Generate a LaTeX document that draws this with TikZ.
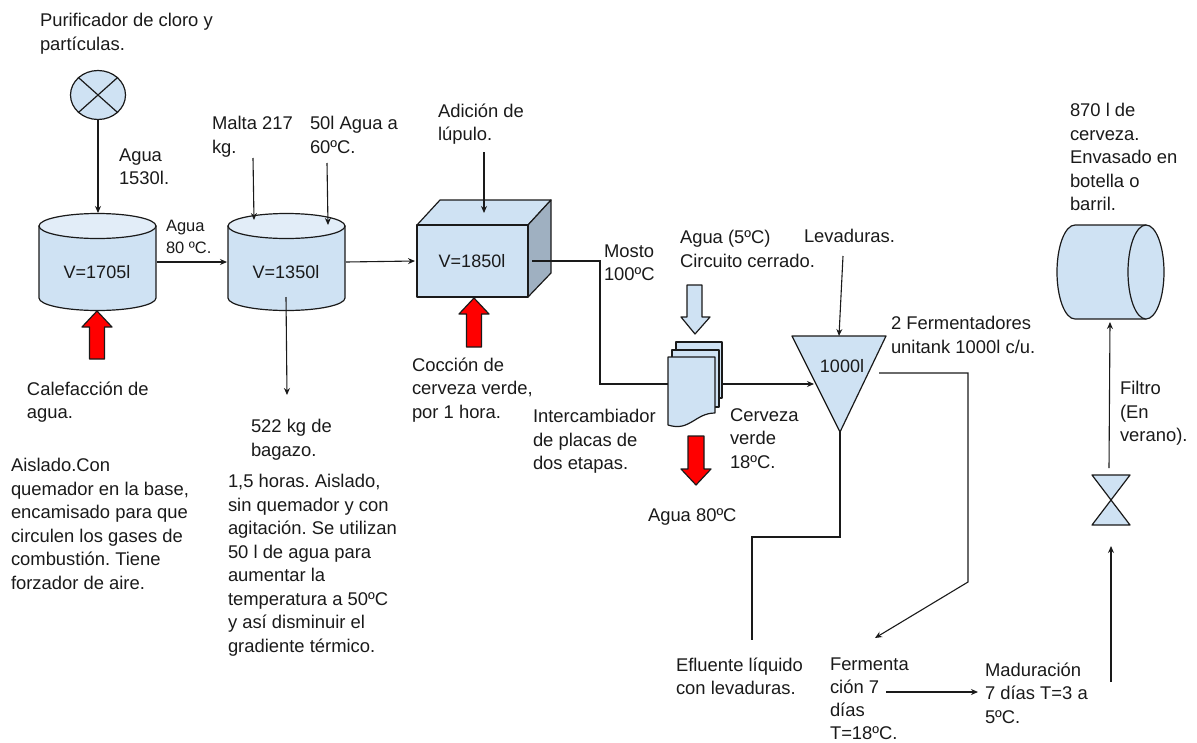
\documentclass[tikz,border=0pt]{standalone}
\usepackage{fontspec}
\setmainfont{Liberation Sans}
\usetikzlibrary{arrows.meta,shapes.geometric}
\definecolor{pale}{HTML}{CFE2F3}
\definecolor{paler}{HTML}{E2EDF8}
\definecolor{shade}{HTML}{9FB0C1}
\definecolor{ink}{HTML}{1A1A1A}
\newcommand{\T}[4]{\node[lbl] (#1) at (#2,{#3-12.45}) {#4};}
\newcommand{\Ts}[4]{\node[lbl] (#1) at (#2,{#3-16.45}) {#4};}
\newcommand{\Cyl}[1]{%
  \path[shapeline,fill=pale] (#1,226) -- (#1,298) arc[start angle=180,end angle=0,x radius=58.5,y radius=12.5] -- ({#1+117},226) -- cycle;
  \path[shapeline,fill=paler] ({#1+58.5},226) ellipse[x radius=58.5,y radius=12.5];
}
\newcommand{\RedUp}[5]{% tip x, tip y, head half, shaft half, length
  \path[shapeline,fill=red] (#1,#2) -- ({#1+#3},{#2+16}) -- ({#1+#4},{#2+16}) -- ({#1+#4},{#2+#5}) -- ({#1-#4},{#2+#5}) -- ({#1-#4},{#2+16}) -- ({#1-#3},{#2+16}) -- cycle;
}
\tikzset{
  x=1pt,y=-1pt,
  lbl/.style={anchor=north west,inner sep=0pt,outer sep=0pt,align=left,text=ink,
    font=\fontsize{18.4}{23.5}\selectfont\frenchspacing,execute at begin node=\strut},
  lblsmall/.style={lbl,font=\fontsize{16.5}{22}\selectfont\frenchspacing},
  lbltight/.style={lbl,font=\fontsize{18.4}{23.2}\selectfont\frenchspacing},
  vol/.style={inner sep=0pt,text=ink,font=\fontsize{18}{22}\selectfont},
  shapeline/.style={draw=ink,line width=1.2pt,line join=round},
  conn/.style={draw=ink,line width=1.1pt,-{Stealth[length=7pt,width=6pt]}},
  plainconn/.style={draw=ink,line width=1.1pt},
}
\begin{document}
\begin{tikzpicture}
\useasboundingbox (0,0) rectangle (1197,742);
% purifier
\node[ellipse,shapeline,fill=pale,minimum width=55pt,minimum height=49pt,inner sep=0pt] (purif) at (98,95) {};
\draw[shapeline] (purif.north west) -- (purif.south east) (purif.north east) -- (purif.south west);
% cylinders
\Cyl{39}
\Cyl{228}
\node[vol] (v1) at (97,272) {V=1705l};
\node[vol] (v2) at (286,272) {V=1350l};
\coordinate (c1top) at (98,213);
\coordinate (c1r) at (157,262);
\coordinate (c2l) at (227,262);
\coordinate (c2r) at (346,262);
\coordinate (c2b) at (286,297);
\coordinate (bagazo) at (287,395);
\coordinate (maltaS) at (253,158);
\coordinate (maltaE) at (254,220);
\coordinate (aguaS) at (327,163);
\coordinate (aguaE) at (328,225);
% box
\path[shapeline,fill=pale] (417,225) -- (440,200) -- (551,200) -- (528,225) -- cycle;
\path[shapeline,fill=shade] (528,225) -- (551,200) -- (551,273) -- (528,297) -- cycle;
\path[shapeline,fill=pale] (417,225) rectangle (528,297);
\node[vol] (v3) at (472,261) {V=1850l};
\coordinate (boxl) at (415,261);
\coordinate (boxr) at (532,261);
\coordinate (lupS) at (484,152);
\coordinate (lupE) at (484,213);
% red arrows
\RedUp{97}{311}{15}{7.5}{48}
\RedUp{474}{298}{15}{7.5}{49}
\path[shapeline,fill=red] (696,485) -- (681,469) -- (688,469) -- (688,436) -- (704,436) -- (704,469) -- (711,469) -- cycle;
% blue arrow
\path[shapeline,fill=pale] (695,334) -- (681,317) -- (687,317) -- (687,285) -- (702,285) -- (702,317) -- (710,317) -- cycle;
% stacked documents
\path[shapeline,fill=pale] (676,342) -- (722,342) -- (722,398) -- (676,398) -- cycle;
\path[shapeline,fill=pale] (672,350) -- (719,350) -- (719,407) -- (672,407) -- cycle;
\path[shapeline,fill=pale] (668,357) -- (715,357) -- (715,413) .. controls (695,413) and (690,432) .. (668,425) -- cycle;
\coordinate (hxl) at (668,384);
\coordinate (hxr) at (723,384);
% fermenter
\path[shapeline,fill=pale] (792,336) -- (886,336) -- (840,432) -- cycle;
\node[vol] (v4) at (842,366) {1000l};
\coordinate (ferml) at (814,384);
\coordinate (fermt) at (839,336);
\coordinate (fermb) at (840,432);
\coordinate (fermr) at (879,373);
\coordinate (levS) at (843,256);
\coordinate (efl) at (752,640);
\coordinate (fer) at (875,638);
\coordinate (ferS) at (886,692);
\coordinate (matE) at (978,692);
\coordinate (matS) at (1111,682);
% hourglass valve
\path[shapeline,fill=pale] (1092,475) -- (1130,475) -- (1092,525) -- (1130,525) -- cycle;
\coordinate (vT) at (1109,468);
\coordinate (vB) at (1111,546);
% horizontal cylinder
\path[shapeline,fill=pale] (1075,225) -- (1146,225) -- (1146,319) -- (1075,319) arc[start angle=90,end angle=270,x radius=18,y radius=47] -- cycle;
\path[shapeline,fill=pale] (1146,272) ellipse[x radius=18,y radius=47];
\coordinate (tank) at (1110,322);
% connectors
\draw[conn] (purif.south) -- (c1top);
\draw[conn] (c1r) -- (c2l);
\draw[conn] (c2r) -- (boxl);
\draw[conn] (c2b) -- (bagazo);
\draw[conn] (maltaS) -- (maltaE);
\draw[conn] (aguaS) -- (aguaE);
\draw[conn] (lupS) -- (lupE);
\draw[plainconn] (boxr) -- (600,261) -- (600,384) -- (hxl);
\draw[conn] (hxr) -- (ferml);
\draw[conn] (levS) -- (fermt);
\draw[plainconn] (fermb) -- (840,537) -- (752,537) -- (efl);
\draw[conn] (fermr) -- (968,373) -- (968,582) -- (fer);
\draw[conn] (ferS) -- (matE);
\draw[conn] (matS) -- (vB);
\draw[conn] (vT) -- (tank);
% labels
\T{a}{40}{26}{Purificador de cloro y\\partículas.}
\T{b}{119}{161}{Agua\\1530l.}
\node[lblsmall] (c) at (166,{231-10.4}) {Agua\\80 ºC.};
\T{d}{212}{129}{Malta 217\\kg.}
\T{e}{310}{129}{50l Agua a\\60ºC.}
\T{f}{438}{116}{Adición de\\lúpulo.}
\T{g}{27}{394}{Calefacción de\\agua.}
\T{h}{11}{471}{Aislado.Con\\quemador en la base,\\encamisado para que\\circulen los gases de\\combustión. Tiene\\forzador de aire.}
\T{i}{251}{432}{522 kg de\\bagazo.}
\T{j}{228}{487}{1,5 horas. Aislado,\\sin quemador y con\\agitación. Se utilizan\\50 l de agua para\\aumentar la\\temperatura a 50ºC\\y así disminuir el\\gradiente térmico.}
\T{k}{412}{370}{Cocción de\\cerveza verde,\\por 1 hora.}
\T{l}{533}{422}{Intercambiador\\de placas de\\dos etapas.}
\T{m}{604}{257}{Mosto\\100ºC}
\T{n}{680}{243}{Agua (5ºC)\\Circuito cerrado.}
\Ts{o}{804}{242}{Levaduras.}
\T{p}{730}{421}{Cerveza\\verde\\18ºC.}
\T{q}{891}{329}{2 Fermentadores\\unitank 1000l c/u.}
\Ts{r}{648}{521}{Agua 80ºC}
\T{s}{676}{670}{Efluente líquido\\con levaduras.}
\node[lbltight] (t) at (830,{670-12.45}) {Fermenta\\ción 7\\días\\T=18ºC.};
\T{u}{985}{675}{Maduración\\7 días T=3 a\\5ºC.}
\T{v}{1070}{116}{870 l de\\cerveza.\\Envasado en\\botella o\\barril.}
\T{w}{1120}{394}{Filtro\\(En\\verano).}
\end{tikzpicture}
\end{document}
